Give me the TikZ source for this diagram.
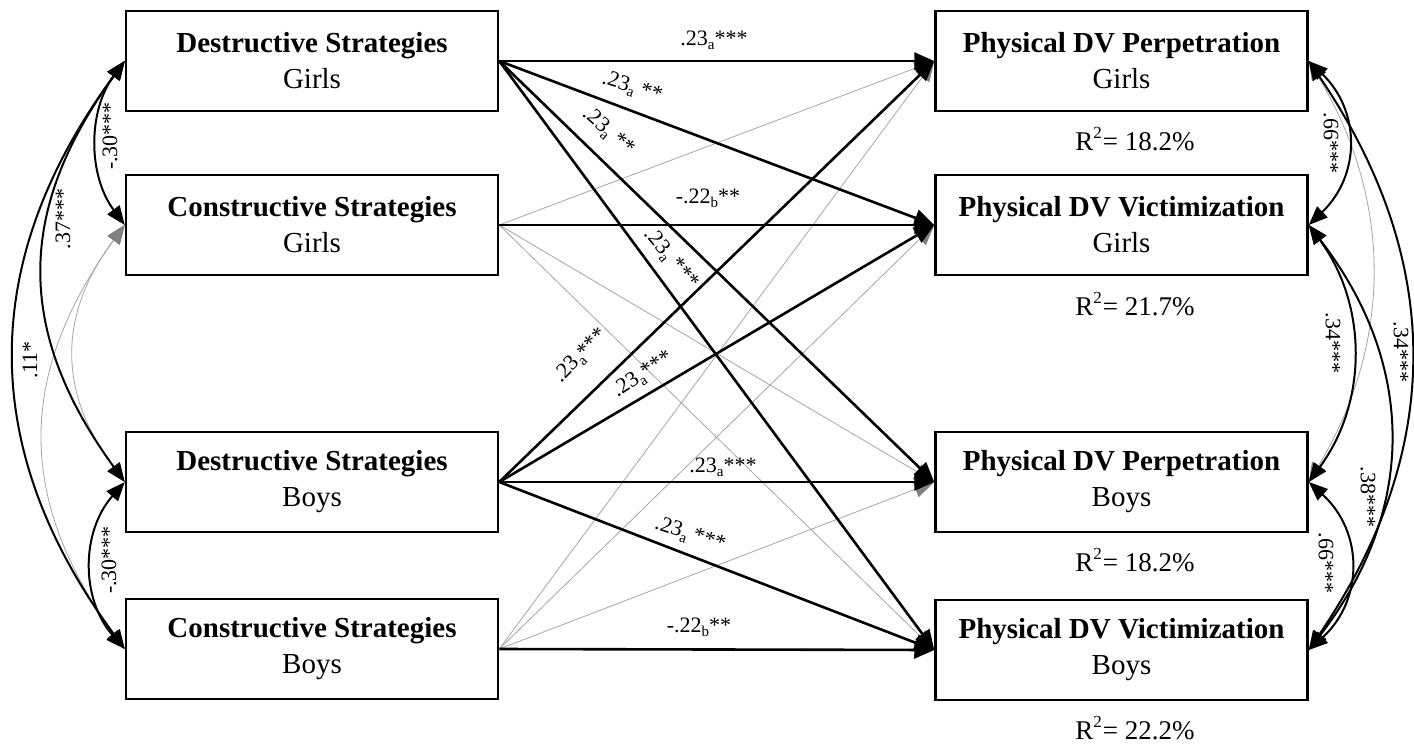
\documentclass[tikz,border=0pt]{standalone}
\usepackage{fontspec}
\setmainfont{Liberation Serif}
\usetikzlibrary{arrows.meta}
\definecolor{thin}{HTML}{A6A6A6}
\definecolor{thinhead}{HTML}{808080}
\newcommand\sbs[1]{\raisebox{-0.2em}{\fontsize{15}{15}\selectfont #1}}
\newcommand\sps[1]{\raisebox{0.42em}{\fontsize{17}{17}\selectfont #1}}
\begin{document}
\begin{tikzpicture}[x=1pt,y=-1pt,
  box/.style={draw, line width=2.5pt, minimum width=372pt, minimum height=100pt,
    inner sep=0pt, align=center, font=\fontsize{29}{36}\selectfont},
  lab/.style={inner sep=0pt, font=\fontsize{22}{22}\selectfont},
  rsq/.style={inner sep=0pt, anchor=base, font=\fontsize{27}{27}\selectfont},
  bline/.style={line width=2.6pt, -{Triangle[length=20pt,width=17pt]}},
  gline/.style={line width=0.8pt, draw=thin, -{Triangle[length=20pt,width=17pt,color=thinhead]}},
  bcov/.style={line width=2pt, {Triangle[length=19pt,width=15pt]}-{Triangle[length=19pt,width=15pt]}},
  gcov/.style={line width=0.8pt, draw=thin, {Triangle[length=19pt,width=15pt,color=thinhead]}-{Triangle[length=19pt,width=15pt,color=thinhead]}}
]
\useasboundingbox (0,0) rectangle (1414,744);
\fill[white] (0,0) rectangle (1414,744);

% boxes
\node[box] (dg) at (312,61)  {\textbf{Destructive Strategies}\\Girls};
\node[box] (cg) at (312,225) {\textbf{Constructive Strategies}\\Girls};
\node[box] (db) at (312,482) {\textbf{Destructive Strategies}\\Boys};
\node[box] (cb) at (312,649) {\textbf{Constructive Strategies}\\Boys};
\node[box] (pg) at (1121.5,61)  {\textbf{Physical DV Perpetration}\\Girls};
\node[box] (vg) at (1121.5,225) {\textbf{Physical DV Victimization}\\Girls};
\node[box] (pb) at (1121.5,482) {\textbf{Physical DV Perpetration}\\Boys};
\node[box] (vb) at (1121.5,650) {\textbf{Physical DV Victimization}\\Boys};

% R squared
\node[rsq] (r1) at (1135,150) {R\sps{2}\kern1pt= 18.2\%};
\node[rsq] (r2) at (1135,315) {R\sps{2}\kern1pt= 21.7\%};
\node[rsq] (r3) at (1135,571) {R\sps{2}\kern1pt= 18.2\%};
\node[rsq] (r4) at (1135,739) {R\sps{2}\kern1pt= 22.2\%};

% thin (non-significant) paths
\draw[gline] (cg.east) -- (pg.west);
\draw[gline] (cg.east) -- (pb.west);
\draw[gline] (cg.east) -- (vb.west);
\draw[gline] (cb.east) -- (pg.west);
\draw[gline] (cb.east) -- (vg.west);
\draw[gline] (cb.east) -- (pb.west);

% significant paths
\draw[bline] (dg.east) -- (pg.west);
\draw[bline] (dg.east) -- (vg.west);
\draw[bline] (dg.east) -- (pb.west);
\draw[bline] (dg.east) -- (vb.west);
\draw[bline] (cg.east) -- (vg.west);
\draw[bline] (db.east) -- (pg.west);
\draw[bline] (db.east) -- (vg.west);
\draw[bline] (db.east) -- (pb.west);
\draw[bline] (db.east) -- (vb.west);
\draw[bline] (cb.east) -- (vb.west);

% path labels
\node[lab] (l1) at (714,40) {.23\sbs{a}***};
\node[lab,rotate=-18] (l2) at (632,88) {.23\sbs{a} **};
\node[lab,rotate=-42] (l3) at (608,132) {.23\sbs{a} **};
\node[lab,rotate=-50] (l4) at (671,259) {.23\sbs{a} ***};
\node[lab] (l5) at (708,198) {-.22\sbs{b}**};
\node[lab,rotate=46] (l6) at (581,356) {.23\sbs{a}***};
\node[lab,rotate=33] (l7) at (643,375) {.23\sbs{a}***};
\node[lab] (l8) at (723,467) {.23\sbs{a}***};
\node[lab,rotate=-18] (l9) at (690,535) {.23\sbs{a} ***};
\node[lab] (l10) at (699,627) {-.22\sbs{b}**};

% left covariances
\draw[gcov] (cg.west) .. controls +(-67,90) and +(-67,-90) .. (db.west);
\draw[gcov] (cg.west) .. controls +(-108,150) and +(-108,-150) .. (cb.west);
\draw[bcov] (dg.west) .. controls +(-37,50) and +(-37,-50) .. (cg.west);
\draw[bcov] (dg.west) .. controls +(-109,150) and +(-109,-150) .. (db.west);
\draw[bcov] (dg.west) .. controls +(-147,200) and +(-147,-200) .. (cb.west);
\draw[bcov] (db.west) .. controls +(-44,50) and +(-44,-50) .. (cb.west);
\node[lab,rotate=90] (c1) at (110,136) {-.30***};
\node[lab,rotate=90] (c2) at (63,219) {.37***};
\node[lab,rotate=90] (c3) at (30,360) {.11*};
\node[lab,rotate=90] (c4) at (109,560) {-.30***};

% right covariances
\draw[gcov] (pg.east) .. controls +(84,140) and +(84,-140) .. (pb.east);
\draw[bcov] (pg.east) .. controls +(52,50) and +(52,-50) .. (vg.east);
\draw[bcov] (vg.east) .. controls +(59,80) and +(59,-80) .. (pb.east);
\draw[bcov] (pg.east) .. controls +(136,200) and +(136,-200) .. (vb.east);
\draw[bcov] (vg.east) .. controls +(108,140) and +(108,-140) .. (vb.east);
\draw[bcov] (pb.east) .. controls +(55,50) and +(55,-50) .. (vb.east);
\node[lab,rotate=-90] (d1) at (1331,143) {.66***};
\node[lab,rotate=-90] (d2) at (1333,343) {.34***};
\node[lab,rotate=-90] (d3) at (1401,352) {.34***};
\node[lab,rotate=-90] (d4) at (1368,497) {.38***};
\node[lab,rotate=-90] (d5) at (1326,563) {.66***};
\end{tikzpicture}
\end{document}
